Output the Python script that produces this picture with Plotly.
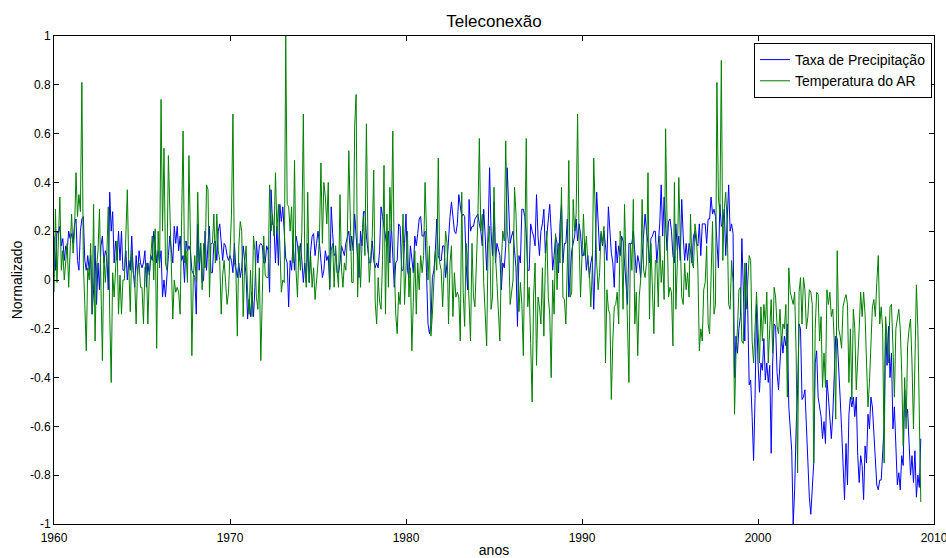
import numpy as np
import plotly.graph_objects as go

# Monthly values (x100), one row per year
precip_1960s = [
    18, 4, 20, 19, 22, 14, 17, 8, 14, 12, 20, 17,
    19, 15, 23, 25, 8, 4, 20, 25, 26, 8, 4, 10,
    4, 10, -14, -4, 14, -10, 7, -4, 14, 18, 7, 12,
    10, -4, 36, 20, 28, 7, 16, 8, 20, 8, 20, 4,
    4, 12, 0, 8, 4, 18, 4, -3, 10, 2, 12, 7,
    5, 7, 12, -3, 7, 2, 10, 8, 20, 15, 7, 12,
    7, 12, -7, 0, -7, 4, 10, 18, 12, 7, 22, 15,
    22, 12, 18, 8, 10, -1, 16, 12, 14, 12, 4, 2,
    1, -14, 23, 4, 15, -1, 0, 20, 4, 15, 22, 3,
    3, 15, 16, 8, 20, 23, 14, 8, 15, 14, 10, 8,
]
precip_1970s = [
    10, 8, 3, 15, 5, 1, 7, 1, 5, 14, 8, 2,
    -16, -8, -15, -5, -15, -3, 16, 7, 14, 15, 14, 7,
    7, 14, 12, -5, 37, 23, 22, 7, 22, 6, 31, 24,
    30, 20, 9, 7, -11, 8, 4, 15, 4, 18, 15, 8,
    15, 8, -1, 7, -1, 15, -1, 12, 18, 19, 10, 15,
    20, 15, 8, 1, 4, 12, 8, 10, -3, 30, 19, 10,
    11, 3, 3, 7, 14, 12, 10, 15, 18, 20, 12, 18,
    12, 27, 18, 7, 1, 20, 14, 28, 28, 18, 12, 7,
    7, 16, 8, 5, 7, 5, 12, 30, 26, 22, 18, 14,
    20, 7, 23, 7, -3, 7, 8, 23, 22, 4, 4, 15,
]
precip_1980s = [
    27, 4, 1, 14, 7, 3, 18, 14, 19, 25, 26, 18,
    18, 20, 3, -18, -22, -18, 1, 4, 12, 25, 10, 8,
    8, 14, 14, 1, 7, 19, 26, 32, 27, 20, 19, 23,
    35, 29, 26, 27, 26, 7, -4, 33, 20, 22, 22, 25,
    26, 27, 23, 20, 14, 29, 18, 4, 20, 46, 20, 10,
    32, 7, 15, 12, 10, -4, 7, 5, 14, 46, 26, 15,
    18, 20, 12, 5, -19, 10, 7, 29, 29, 26, 19, 4,
    4, 23, 20, 18, 14, 35, 18, 10, 20, 23, 29, 11,
    18, 26, 31, 20, 4, 10, 18, 15, 3, 23, 31, 7,
    15, 15, 25, -7, 1, 12, 15, 18, 25, 16, 23, 19,
]
precip_1990s = [
    10, 10, 15, 4, 10, 1, 7, 10, -12, 7, 36, 26,
    12, 19, 14, 20, 15, 8, 30, 20, 11, 7, -3, 16,
    7, 14, 10, 18, 16, 7, -1, -10, 15, 15, 15, 20,
    10, 3, 10, 7, 1, 10, 16, 27, 20, 15, 7, 17,
    18, 20, 20, 7, 15, 23, 39, 18, 34, 23, 12, 24,
    25, 20, 10, 7, 23, 12, 18, 8, 33, 18, 8, 15,
    8, 15, 12, 7, 18, 20, 15, 14, 23, 10, 23, 23,
    23, 15, 25, 25, 34, 27, 29, 26, 14, 5, 31, 22,
    23, 29, 10, 22, 39, 20, 23, 19, -40, -23, -30, -20,
    -15, 17, -7, -25, 7, -12, -43, -41, -56, -74, -48, -10,
]
precip_2000s = [
    -34, -46, -34, -37, -24, -41, -34, -42, -35, -71, -34, -18,
    -19, -38, -45, -34, -23, -30, -23, -27, -18, -52, -62, -70,
    -100, -86, -61, -45, -18, -20, -49, -48, -45, -61, -72, -89,
    -96, -82, -75, -34, -29, -48, -53, -56, -65, -58, -67, -41,
    -48, -55, -65, -55, -41, -23, -24, -34, -48, -61, -75, -90,
    -67, -84, -55, -48, -52, -48, -56, -48, -72, -83, -72, -76,
    -90, -68, -75, -55, -61, -48, -52, -63, -75, -84, -86, -82,
    -82, -68, -60, -18, -35, -19, -40, -30, -61, -52, -72, -84,
    -79, -86, -72, -76, -45, -56, -53, -64, -80, -72, -83, -70,
    -89, -80, -85, -65,
]

temp_1960s = [
    -5, 29, -1, 20, 34, 4, 12, 0, 8, 15, -3, 10,
    27, 11, 20, 44, 26, 35, 28, 81, 7, -10, -29, 5,
    0, 15, -14, 31, -25, 5, 12, 29, -4, -33, 10, -1,
    10, 30, -14, -42, 3, -7, 5, 16, -14, 2, -14, 0,
    0, 15, 37, 5, -13, 12, 3, 0, -18, 5, 7, -3,
    -3, -18, 5, 7, -18, 2, 10, 18, 0, 21, -28, 20,
    5, 74, 20, 54, 7, 4, 51, 27, 10, -16, 0, -5,
    -3, -5, -14, 20, 61, 7, 12, -1, 51, 18, -31, 1,
    10, -1, 36, 7, 15, -4, 15, 5, 39, 37, -7, 15,
    15, 27, 7, 27, 12, 8, -14, 2, 8, -1, -10, -5,
]
temp_1970s = [
    10, 27, 68, 7, 4, -23, 14, 24, 20, -15, 7, 14,
    -5, -14, 4, -15, 18, 12, -7, -12, 5, -33, -7, 18,
    2, 1, 1, 39, 20, 27, 18, 44, 20, 31, 14, -5,
    0, -1, 100, 31, 30, 20, 30, 7, 49, 4, -7, 14,
    4, 20, 68, 7, -3, 36, -1, 10, -3, 5, -8, -1,
    7, 18, 48, 15, 40, 34, 23, 40, -4, 12, 15, -3,
    14, 4, -3, 35, 5, -3, 7, 4, 18, 53, 18, -1,
    -1, 63, 76, -7, 15, -3, 15, 26, 10, 64, 18, -1,
    10, 18, 45, -9, -18, 1, -9, -12, 8, 47, -14, 27,
    -3, 38, 20, 61, 7, -14, -22, -5, -10, 10, 27, -10,
]
temp_1980s = [
    8, 20, -7, 5, -29, -7, 12, -14, 7, -4, 10, 3,
    10, 40, 14, 0, 14, -23, -14, 0, 12, 4, 50, 7,
    4, -11, 4, 20, 15, -18, 7, 14, -15, 3, -7, -5,
    -7, -25, 36, -5, -19, 15, 7, -7, -25, 15, -7, -11,
    7, 25, 58, 20, 27, -1, -14, -27, 15, 22, -12, -7,
    38, 10, -1, -14, -25, 7, 20, 16, 57, 20, 15, -10,
    -5, 0, 38, 27, 7, -13, -1, -10, -31, 17, 58, -11,
    -3, -26, -50, -7, 7, -35, -7, -11, -18, 5, -23, 7,
    20, -7, -14, -40, 0, -14, 19, -4, 15, 7, 38, -7,
    -8, -18, 7, 49, -7, -5, 33, 20, 27, 68, 16, -7,
]
temp_1990s = [
    10, 27, 10, 18, 7, 4, -11, 4, 50, 25, 7, -4,
    3, 20, 15, 22, -34, -4, -12, -14, -49, -25, -11, -10,
    -5, -18, 20, 15, -12, 31, 7, -12, -42, 15, 4, 33,
    -18, -5, -31, -7, 0, 33, 4, 1, 7, 44, -16, 15,
    -4, -22, 8, 8, -11, 18, -1, 8, -8, 62, 23, -7,
    -3, -5, -27, 40, -12, 7, 42, 18, -7, -10, 7, -4,
    3, -7, 27, 7, 5, 23, 18, 5, -29, -20, -25, -4,
    -1, 14, -18, -22, 4, 24, -14, -10, 81, 34, 27, 90,
    8, 29, 36, 23, -10, -12, 8, -1, -55, -30, -20, -4,
    -3, -25, -26, 7, -12, -3, 10, 8, -25, -34, -16, -5,
]
temp_2000s = [
    -20, -34, -11, -25, -10, -18, -5, -34, -20, -8, -30, -3,
    -7, -19, -22, -12, -27, -18, -20, -10, -48, 5, -5, -7,
    -10, -5, -30, -79, -5, 1, -18, 1, -4, -20, -15, -4,
    -5, -10, -75, -20, -5, -6, -25, -15, -44, -30, -44, -4,
    -10, -5, -15, -12, -25, -57, 12, -20, -23, -28, -11, -8,
    -6, -10, -42, -20, -49, -12, -20, -45, -34, -20, -5, -15,
    -5, -14, -34, -52, -42, -25, -11, -8, -15, -1, 10, -18,
    -11, -20, -75, -15, -23, -34, -11, -10, -27, -48, -20, -16,
    -12, -20, -38, -68, -40, -61, -27, -20, -16, -34, -61, -34,
    -2, -20, -61, -91,
]

start_year = 1960
x_ticks = [1960, 1970, 1980, 1990, 2000, 2010]
x_ticktext = ["1960", "1970", "1980", "1990", "2000", "2010"]
y_ticks = [-1, -0.8, -0.6, -0.4, -0.2, 0, 0.2, 0.4, 0.6, 0.8, 1]
y_ticktext = ["-1", "-0.8", "-0.6", "-0.4", "-0.2", "0", "0.2", "0.4", "0.6", "0.8", "1"]

precip = np.array(precip_1960s + precip_1970s + precip_1980s + precip_1990s + precip_2000s) / 100.0
temp = np.array(temp_1960s + temp_1970s + temp_1980s + temp_1990s + temp_2000s) / 100.0
years = start_year + np.arange(len(precip)) / 12.0

FONT = "Liberation Sans, Arial, Helvetica, sans-serif"

fig = go.Figure()
fig.add_trace(go.Scatter(x=years, y=precip, mode="lines", name="Taxa de Precipitação",
                         line=dict(color="#0000FF", width=1)))
fig.add_trace(go.Scatter(x=years, y=temp, mode="lines", name="Temperatura do AR",
                         line=dict(color="#008000", width=1)))

axis_common = dict(showgrid=False, zeroline=False, showline=True, linecolor="black",
                   linewidth=1, mirror="ticks", ticks="inside", ticklen=5,
                   tickcolor="black", ticklabeloverflow="allow",
                   tickfont=dict(size=12, color="black", family=FONT))

fig.update_layout(
    width=946, height=558,
    margin=dict(l=54, r=12, t=36, b=34),
    paper_bgcolor="white", plot_bgcolor="white",
    font=dict(family=FONT, color="black"),
    title=dict(text="Teleconexão", x=0.5, xref="paper", xanchor="center",
               y=1 - 21 / 558, yref="container", yanchor="middle",
               font=dict(size=17, color="black", family=FONT)),
    xaxis=dict(range=[1960, 2010], tickvals=x_ticks, ticktext=x_ticktext,
               ticklabelstandoff=3,
               title=dict(text="anos", font=dict(size=14, family=FONT), standoff=1),
               automargin=False, **axis_common),
    yaxis=dict(range=[-1, 1], tickvals=y_ticks, ticktext=y_ticktext,
               title=dict(text="Normalizado", font=dict(size=14, family=FONT), standoff=4),
               automargin=False, **axis_common),
    showlegend=True,
    legend=dict(x=0.9977, xanchor="right", y=0.9857, yanchor="top",
                bordercolor="black", borderwidth=1, bgcolor="white",
                font=dict(size=14, family=FONT, color="black"),
                tracegroupgap=0, itemwidth=30),
)

fig.write_html("out.html")
